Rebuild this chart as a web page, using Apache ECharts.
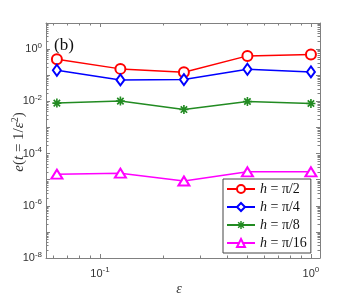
<!DOCTYPE html>
<html><head><meta charset="utf-8">
<script src="https://cdn.jsdelivr.net/npm/echarts@6/dist/echarts.min.js"></script>
<style>html,body{margin:0;padding:0;background:#fff}#c{width:354px;height:300px}</style>
</head><body><div id="c"></div>
<script>
const epsilons = [0.0625, 0.125, 0.25, 0.5, 1];
const errH2 = [0.41, 0.175, 0.129, 0.55, 0.62];
const errH4 = [0.155, 0.066, 0.068, 0.169, 0.134];
const errH8 = [0.00855, 0.0102, 0.00485, 0.00986, 0.00826];
const errH16 = [1.62e-5, 1.77e-5, 8.9e-6, 2.0e-5, 2.0e-5];
const seriesNames = ['{i|h} = π/2', '{i|h} = π/4', '{i|h} = π/8', '{i|h} = π/16'];
const xMajor = [0.1, 1];
const xMinor = [0.06,0.07,0.08,0.09,0.2,0.3,0.4,0.5,0.6,0.7,0.8,0.9];
const yMajor = [1e-8,1e-7,1e-6,1e-5,1e-4,1e-3,1e-2,1e-1,1,10];
const yLabels = [1e-8,1e-6,1e-4,1e-2,1];
const yMinor = [];
for (let e = -8; e < 1; e++) for (let m = 2; m <= 9; m++) yMinor.push(m * Math.pow(10, e));

const xMin = 0.0555, xMax = 1.104, yMin = 1e-8, yMax = 10;
const axisCol = '#808080';
const labRich = {
  b: {fontSize: 11, color: '#333', fontFamily: 'Liberation Sans'},
  s: {fontSize: 8, color: '#333', fontFamily: 'Liberation Sans', verticalAlign: 'bottom', padding: [0,0,7,0]}
};
function fmt(v){ const e = Math.round(Math.log10(v)); return '{b|10}{s|' + e + '}'; }

function xAx(pos, vals, len, showLab, showLine){
  return {type:'log', logBase:10, min:xMin, max:xMax, position:pos, gridIndex:0,
    axisLine:{show:showLine, onZero:false, lineStyle:{color:axisCol, width:1}},
    axisTick:{show:true, inside:true, length:len, customValues:vals, lineStyle:{color:axisCol}},
    axisLabel:{show:showLab, customValues:showLab?xMajor:undefined, formatter:fmt, rich:labRich, margin:8},
    splitLine:{show:false}, minorTick:{show:false}};
}
function yAx(pos, vals, len, showLab, showLine){
  return {type:'log', logBase:10, min:yMin, max:yMax, position:pos, gridIndex:0,
    axisLine:{show:showLine, onZero:false, lineStyle:{color:axisCol, width:1}},
    axisTick:{show:true, inside:true, length:len, customValues:vals, lineStyle:{color:axisCol}},
    axisLabel:{show:showLab, customValues:showLab?yLabels:undefined, formatter:fmt, rich:labRich, margin:4},
    splitLine:{show:false}, minorTick:{show:false}};
}

const star = 'path://M-0.9,-5H0.9V5H-0.9Z M-5,-0.9H5V0.9H-5Z M-4.2,-2.9L-2.9,-4.2L4.2,2.9L2.9,4.2Z M2.9,-4.2L4.2,-2.9L-2.9,4.2L-4.2,2.9Z';
const cols = ['#ff0000', '#0000ff', '#228b22', '#ff00ff'];
const syms = ['emptyCircle', 'emptyDiamond', star, 'emptyTriangle'];
const sizes = [10, [8,11], 9, [11,9]];
const datas = [errH2, errH4, errH8, errH16];

const series = datas.map((d, k) => ({
  name: seriesNames[k], type:'line', xAxisIndex:0, yAxisIndex:0,
  data: epsilons.map((x, i) => [x, d[i]]),
  symbol: syms[k], symbolSize: sizes[k], showAllSymbol: true,
  lineStyle:{color:cols[k], width:1.5},
  itemStyle:{color: cols[k], borderColor:cols[k], borderWidth: k===2 ? 0 : 1.5},
  emphasis:{disabled:true}, animation:false, z: 3
}));

const chart = echarts.init(document.getElementById('c'), null, {renderer:'canvas'});
chart.setOption({
  animation:false,
  grid:{left:46, right:34, top:23, bottom:42, containLabel:false},
  xAxis:[xAx('bottom', xMajor, 4, true, true), xAx('bottom', xMinor, 2.5, false, false),
         xAx('top', xMajor, 4, false, true), xAx('top', xMinor, 2.5, false, false)],
  yAxis:[yAx('left', yMajor, 4, true, true), yAx('left', yMinor, 2.5, false, false),
         yAx('right', yMajor, 4, false, true), yAx('right', yMinor, 2.5, false, false)],
  legend:{orient:'vertical', left:223, top:179, width:94,
    backgroundColor:'#fff', borderColor:'#444', borderWidth:1, borderRadius:0,
    padding:[3,4,3,3], itemGap:4, itemWidth:28, itemHeight:10,
    data: seriesNames.map((n, k) => k === 2 ? {name: n, itemStyle:{borderWidth:0}} : {name: n}),
    textStyle:{fontSize:14, color:'#111', fontFamily:'Liberation Serif',
      rich:{i:{fontSize:14, fontStyle:'italic', fontFamily:'Liberation Serif', color:'#111'}}}
  },
  series: series,
  graphic:[
    {type:'text', left:54, top:37, style:{text:'(b)', font:'17px "Liberation Serif"', fill:'#111'}},
    {type:'text', x:179, y:289, style:{text:'ε', font:'italic 14px "Liberation Serif"', fill:'#333', align:'center', verticalAlign:'middle'}},
    {type:'text', x:19, y:142, rotation:Math.PI/2,
      style:{text:'{i|e}({i|t} = 1/{i|ε}{s|2})', align:'center', verticalAlign:'middle',
        rich:{i:{font:'italic 15px "Liberation Serif"', fill:'#333'},
              s:{font:'10px "Liberation Serif"', fill:'#333', verticalAlign:'bottom', padding:[0,0,8,0]}},
        font:'15px "Liberation Serif"', fill:'#333'}}
  ]
});
</script></body></html>
